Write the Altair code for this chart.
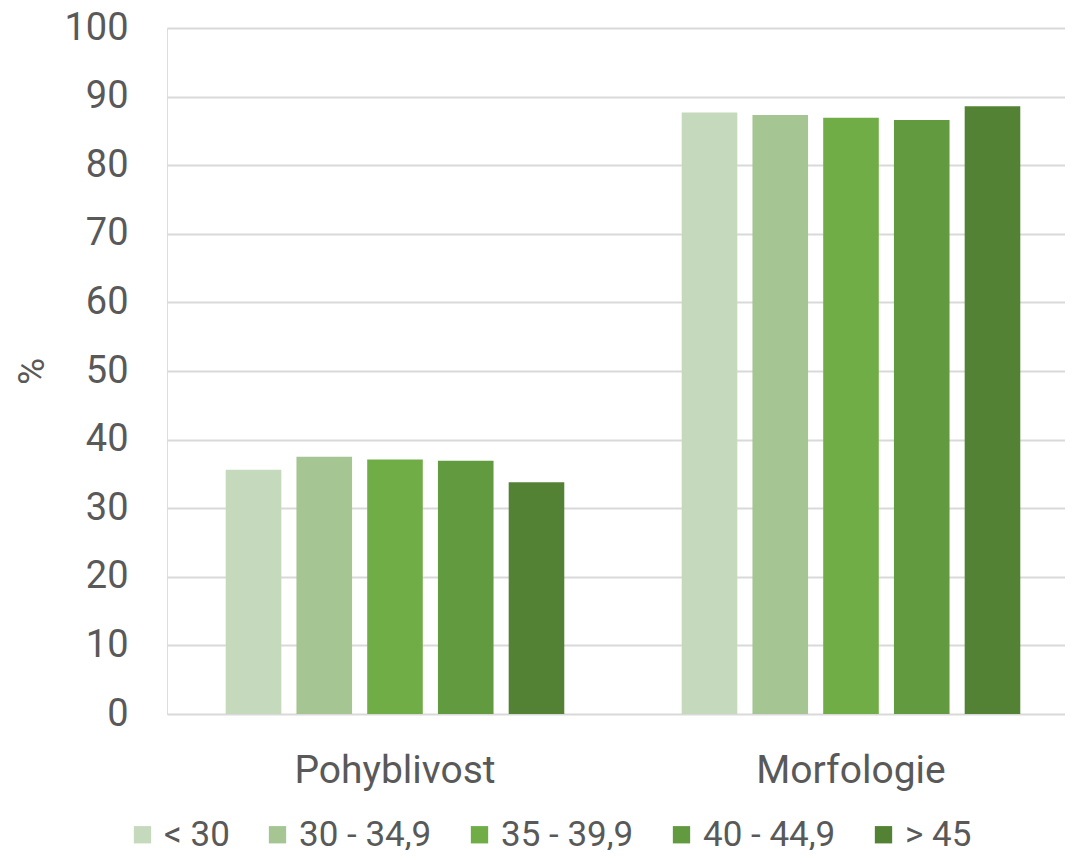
import altair as alt
import pandas as pd

groups = ["Pohyblivost", "Morfologie"]
series = ["< 30", "30 - 34,9", "35 - 39,9", "40 - 44,9", "> 45"]
pohyblivost = [35.6, 37.5, 37.1, 36.9, 33.8]
morfologie = [87.7, 87.3, 86.9, 86.6, 88.6]
colors = ["#C5D9BC", "#A5C593", "#70AD47", "#629B3F", "#548235"]
y_ticks = list(range(0, 101, 10))

rows = []
for s, v in zip(series, pohyblivost):
    rows.append({"group": groups[0], "series": s, "value": v})
for s, v in zip(series, morfologie):
    rows.append({"group": groups[1], "series": s, "value": v})
df = pd.DataFrame(rows)

FONT = "Roboto"
TXT = "#595959"

chart = alt.Chart(df).mark_bar().encode(
    x=alt.X("group:N", sort=groups, title=None,
            scale=alt.Scale(paddingInner=0, paddingOuter=0, range=[0, 912]),
            axis=alt.Axis(labelAngle=0, domain=False, ticks=False, labelFontSize=39,
                          labelPadding=37, labelColor=TXT, labelFont=FONT, labelLimit=0)),
    xOffset=alt.XOffset("series:N", sort=series,
                        scale=alt.Scale(paddingInner=0.214, paddingOuter=0.83)),
    y=alt.Y("value:Q", title="%",
            scale=alt.Scale(domain=[0, 100], nice=False),
            axis=alt.Axis(values=y_ticks, domain=False, ticks=False, labelFontSize=38,
                          labelPadding=39, labelColor=TXT, labelFont=FONT,
                          titleFontSize=37, titleFont=FONT, titleColor=TXT,
                          titleFontWeight="normal", titlePadding=12,
                          gridColor="#D9D9D9", gridWidth=2)),
    color=alt.Color("series:N", sort=series,
                    scale=alt.Scale(domain=series, range=colors),
                    legend=alt.Legend(title=None, orient="none", direction="horizontal",
                                      legendX=-42, legendY=789, columns=5,
                                      symbolType="square", symbolSize=300,
                                      symbolStrokeWidth=0, labelFontSize=35,
                                      labelFont=FONT, labelColor=TXT, labelOffset=4,
                                      columnPadding=30)),
).properties(
    width=898, height=686,
    autosize=alt.AutoSizeParams(type="none"),
    padding={"left": 159, "top": 20, "right": 0, "bottom": 136},
).configure_view(stroke=None).configure(background="white")

chart.save("out.html", embed_options={"renderer": "svg", "actions": False})
